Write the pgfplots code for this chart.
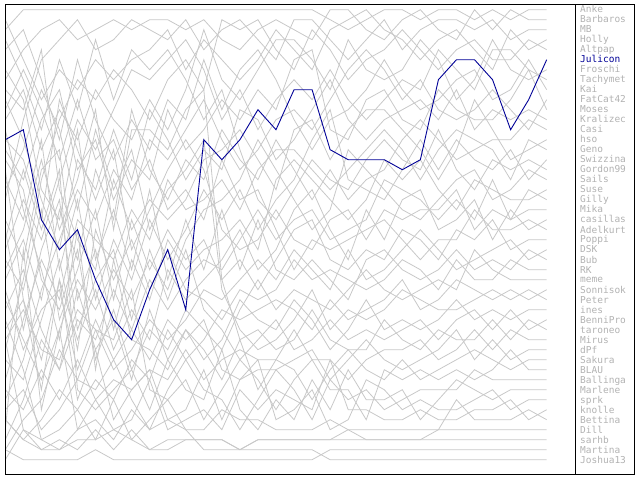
\documentclass[border=0pt]{standalone}
\usepackage{pgfplots}
\usepackage{pgfplotstable}
\pgfplotsset{compat=1.18}
\usepackage{fontspec}
\newfontfamily\pixfont{DejaVu Sans Mono}
\definecolor{trail}{RGB}{200,200,200}
\definecolor{namegray}{RGB}{178,178,178}
\definecolor{navy}{RGB}{0,0,150}

% rank of every player at each of the 31 snapshots
\pgfplotstableread[col sep=comma]{
name,w0,w1,w2,w3,w4,w5,w6,w7,w8,w9,w10,w11,w12,w13,w14,w15,w16,w17,w18,w19,w20,w21,w22,w23,w24,w25,w26,w27,w28,w29,w30
Anke,3,1,1,1,1,1,1,1,1,1,1,1,1,1,1,1,1,1,2,3,2,1,1,2,1,1,2,1,2,1,1
Barbaros,8,5,3,2,4,3,2,3,2,2,3,2,4,5,3,2,3,4,1,1,3,4,2,1,3,4,1,3,1,2,2
MB,20,12,6,4,2,5,4,2,3,4,2,5,3,2,4,6,2,2,4,6,4,2,5,3,2,2,3,2,4,3,3
Holly,2,6,10,7,9,6,8,6,5,3,7,4,6,8,6,3,5,7,3,2,1,3,4,6,4,3,5,7,3,5,4
Altpap,35,28,18,12,8,10,7,9,12,8,6,9,2,3,2,5,7,3,5,8,6,5,3,5,7,5,4,6,6,4,5
Julicon,14,13,22,25,23,28,32,34,29,25,31,14,16,14,11,13,9,9,15,16,16,16,17,16,8,6,6,8,13,10,6
Froschi,12,9,15,11,14,9,12,14,10,13,9,3,8,10,7,4,4,6,9,4,7,8,7,4,6,10,8,4,7,8,7
Tachymet,25,20,24,18,12,15,11,7,8,6,4,7,12,9,13,10,8,10,7,10,12,10,8,9,5,7,9,5,5,7,8
Kai,5,3,8,14,6,12,16,12,15,10,12,6,11,7,5,8,12,15,12,11,9,6,9,11,10,8,7,10,9,6,9
FatCat42,40,36,29,24,19,22,17,20,14,16,13,10,14,17,15,12,11,13,10,7,5,7,10,8,11,12,11,9,11,13,10
Moses,15,18,12,9,17,14,20,16,18,11,15,13,10,12,9,11,6,5,13,14,10,9,12,13,9,11,12,12,10,7,11
Kralizec,10,14,20,25,16,19,13,18,11,14,18,15,17,11,12,16,14,11,8,12,14,12,11,10,12,9,13,11,12,11,12
Casi,28,24,30,21,26,17,22,11,17,20,16,18,13,16,18,14,17,20,17,20,18,17,14,12,14,16,15,14,14,12,13
hso,9,11,5,19,24,27,18,23,20,22,20,16,15,13,16,19,13,12,16,13,11,11,13,15,18,15,10,13,16,15,14
Geno,38,32,26,30,22,24,26,21,24,18,21,20,18,21,17,15,15,17,19,17,15,13,15,18,15,13,14,15,18,14,15
Swizzina,18,22,14,27,20,30,24,28,22,26,23,19,22,19,23,20,18,14,11,18,19,20,17,14,17,14,16,17,15,18,16
Gordon99,4,8,13,6,11,4,10,5,7,5,8,12,9,15,20,22,19,16,18,19,16,14,16,17,13,17,19,16,17,16,17
Sails,30,34,38,33,28,31,27,30,26,29,24,21,20,18,14,17,20,23,21,15,17,19,21,22,20,18,17,20,19,17,18
Suse,22,26,17,15,30,25,33,26,30,24,27,25,24,22,25,18,16,18,20,22,20,16,18,16,19,21,18,19,20,20,19
Gilly,44,40,34,37,32,34,29,33,28,31,28,26,27,24,21,24,22,21,24,23,22,18,19,20,22,20,22,18,22,19,20
Mika,14,16,22,10,15,20,15,25,21,17,14,17,23,25,24,21,24,25,22,21,24,21,22,21,21,19,23,21,22,21,21
casillas,33,30,36,28,34,29,35,31,34,27,30,28,26,23,27,25,21,19,23,26,21,24,20,19,23,22,20,24,21,23,22
Adelkurt,11,7,11,16,10,16,14,19,16,21,19,22,16,20,19,23,27,24,25,24,23,22,24,26,24,24,21,23,23,22,23
Poppi,26,29,21,32,27,21,30,22,27,23,26,24,28,26,29,26,23,22,26,27,25,26,23,24,26,23,24,22,25,24,24
DSK,45,42,40,35,38,33,37,35,32,34,32,29,30,28,26,28,25,27,29,25,28,27,25,23,25,27,26,25,24,26,25
Bub,7,10,19,22,13,26,21,27,19,28,22,27,21,27,22,27,28,26,28,30,26,25,27,28,27,25,27,26,27,25,26
RK,36,38,32,26,35,23,28,24,29,25,29,30,32,29,30,29,26,28,27,28,29,28,26,27,29,26,28,28,26,27,27
meme,16,19,28,31,25,36,31,37,33,35,31,33,35,31,28,31,29,30,31,29,27,29,30,29,28,29,25,27,28,28,28
Sonnisok,42,44,42,39,41,38,40,36,38,33,36,34,31,32,31,30,31,33,30,32,31,30,28,31,30,28,29,30,29,30,29
Peter,19,15,9,13,21,13,19,15,23,19,17,14,29,33,35,34,32,29,33,31,32,31,29,30,31,31,30,29,30,29,30
ines,31,27,33,37,29,35,32,38,31,36,33,36,34,30,32,33,30,32,35,33,30,33,32,33,32,30,32,31,32,31,31
BenniPro,23,33,25,20,33,28,25,32,25,30,25,31,33,36,34,32,35,34,32,34,33,34,33,32,34,32,31,33,31,33,32
taroneo,27,23,16,23,18,11,23,13,13,15,11,9,28,34,33,35,34,31,34,35,35,32,34,35,33,34,34,32,34,32,33
Mirus,39,41,37,40,36,40,38,39,37,38,35,38,36,35,36,36,33,36,36,38,36,35,35,34,36,35,33,35,33,34,34
dPf,29,35,31,29,37,32,36,33,36,32,34,32,37,38,37,37,36,35,38,36,34,36,37,36,35,33,36,34,36,35,35
Sakura,13,21,27,34,23,37,26,34,35,37,33,35,38,34,39,36,37,40,37,35,37,38,36,38,37,36,35,36,37,36,36
BLAU,34,31,35,36,31,33,34,29,39,40,38,42,39,36,38,41,38,36,39,39,42,37,38,37,38,37,38,37,35,37,37
Ballinga,41,39,43,41,38,39,36,40,43,39,36,39,40,43,40,37,39,42,38,40,39,41,40,39,39,39,37,38,38,38,38
Marlene,24,17,23,17,39,41,39,37,41,36,39,40,35,41,43,40,42,38,41,37,40,40,39,42,40,38,39,40,39,39,39
sprk,17,30,39,28,40,35,42,39,37,42,41,37,42,38,36,42,41,39,43,42,38,39,41,40,41,41,40,39,41,40,40
knolle,43,25,41,33,43,40,43,42,38,43,42,41,43,39,41,39,40,41,36,41,41,42,42,41,42,42,41,41,40,42,41
Bettina,32,37,44,43,41,44,40,44,42,40,43,43,41,42,42,43,43,43,42,43,43,43,43,43,43,40,42,42,42,41,42
Dill,46,43,45,44,45,43,45,43,45,45,44,44,44,45,44,44,44,44,44,43,44,44,44,44,43,43,43,43,43,43,43
sarhb,34,43,44,45,43,42,44,41,43,42,43,45,45,45,44,44,44,44,44,44,44,44,44,44,44,44,44,44,44,44,44
Martina,45,46,46,46,46,45,46,46,46,46,46,46,46,46,46,46,46,46,45,45,45,45,45,45,45,45,45,45,45,45,45
Joshua13,42,44,45,45,44,44,43,44,45,44,44,44,44,45,45,45,45,45,46,46,46,46,46,46,46,46,46,46,46,46,46
}\ranks
\pgfplotstabletranspose[colnames from=name]\byweek\ranks

\begin{document}
\begin{tikzpicture}[x=1pt,y=1pt]
\useasboundingbox (0,0) rectangle (640,480);
\begin{axis}[
    at={(5.3pt,470.3pt)}, anchor=north west,
    scale only axis, width=541.4pt, height=450pt,
    xmin=0, xmax=30, ymin=1, ymax=46, y dir=reverse,
    hide axis, clip=false,
  ]
  \pgfplotsinvokeforeach{Anke,Barbaros,MB,Holly,Altpap,Froschi,Tachymet,Kai,FatCat42,Moses,Kralizec,Casi,hso,Geno,Swizzina,Gordon99,Sails,Suse,Gilly,Mika,casillas,Adelkurt,Poppi,DSK,Bub,RK,meme,Sonnisok,Peter,ines,BenniPro,taroneo,Mirus,dPf,Sakura,BLAU,Ballinga,Marlene,sprk,knolle,Bettina,Dill,sarhb,Martina,Joshua13}{
    \addplot[trail, line width=0.8pt, mark=none] table[x expr=\coordindex, y=#1] {\byweek};
  }
  \addplot[navy, line width=0.9pt, mark=none] table[x expr=\coordindex, y=Julicon] {\byweek};
\end{axis}
\draw[line width=1pt] (5.2,5.8) rectangle (634.5,475.2);
\draw[line width=1pt] (575.5,5.8) -- (575.5,475.2);
\foreach \n [count=\i] in {Anke,Barbaros,MB,Holly,Altpap,Julicon,Froschi,Tachymet,Kai,FatCat42,Moses,Kralizec,Casi,hso,Geno,Swizzina,Gordon99,Sails,Suse,Gilly,Mika,casillas,Adelkurt,Poppi,DSK,Bub,RK,meme,Sonnisok,Peter,ines,BenniPro,taroneo,Mirus,dPf,Sakura,BLAU,Ballinga,Marlene,sprk,knolle,Bettina,Dill,sarhb,Martina,Joshua13}{
  \ifnum\i=6
    \node[anchor=base west, inner sep=0pt, text=navy, font=\pixfont\fontsize{9.5}{10}\selectfont] at (580,{477-10*\i}) {\n};
  \else
    \node[anchor=base west, inner sep=0pt, text=namegray, font=\pixfont\fontsize{9.5}{10}\selectfont] at (580,{477-10*\i}) {\n};
  \fi
}
\end{tikzpicture}
\end{document}
